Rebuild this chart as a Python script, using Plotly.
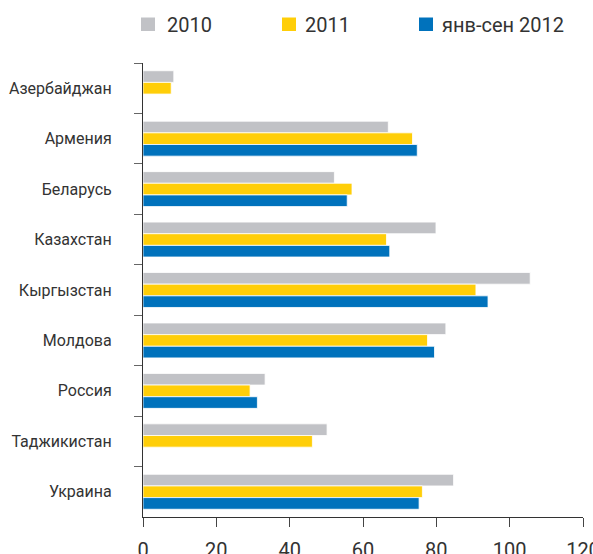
import plotly.graph_objects as go

categories = ["Азербайджан", "Армения", "Беларусь", "Казахстан", "Кыргызстан",
              "Молдова", "Россия", "Таджикистан", "Украина"]
series_names = ["2010", "2011", "янв-сен 2012"]
values_2010 = [8.4, 66.9, 52.2, 79.9, 105.6, 82.6, 33.3, 50.2, 84.7]
values_2011 = [7.7, 73.5, 57.0, 66.4, 90.8, 77.6, 29.2, 46.2, 76.2]
values_2012 = [None, 74.8, 55.7, 67.3, 94.1, 79.5, 31.2, None, 75.3]
x_ticks = [0, 20, 40, 60, 80, 100, 120]

colors = ["#C1C2C6", "#FFCE08", "#0072BC"]

W, H = 593, 554
ML, MR, MT, MB = 143, 10, 63, 37
PW, PH = W - ML - MR, H - MT - MB

def px2paper_x(px):
    return (px - ML) / PW

def px2paper_y(py):
    return (H - MB - py) / PH

fig = go.Figure()
for name, vals, col in zip(series_names, [values_2010, values_2011, values_2012], colors):
    fig.add_trace(go.Bar(
        y=categories, x=vals, name=name, orientation="h",
        marker=dict(color=col, line=dict(color="white", width=0.8)),
        showlegend=False,
    ))

# custom legend (squares + text)
legend_sq_x = [141, 282, 419]
legend_txt_x = [165, 303, 440]
for name, col, sx, tx in zip(series_names, colors, legend_sq_x, legend_txt_x):
    fig.add_shape(type="rect", xref="paper", yref="paper",
                  x0=px2paper_x(sx), x1=px2paper_x(sx + 14),
                  y0=px2paper_y(31), y1=px2paper_y(17.5),
                  fillcolor=col, line=dict(width=0))
    fig.add_annotation(text=name, xref="paper", yref="paper",
                       x=px2paper_x(tx), y=px2paper_y(24.5),
                       xanchor="left", yanchor="middle", showarrow=False,
                       font=dict(size=20, family="Roboto, sans-serif", color="#333333"))

fig.update_layout(
    width=W, height=H,
    margin=dict(l=ML, r=MR, t=MT, b=MB),
    paper_bgcolor="white", plot_bgcolor="white",
    barmode="group", bargap=0.307, bargroupgap=0,
    font=dict(family="Roboto, sans-serif", color="#333333"),
    showlegend=False,
    xaxis=dict(range=[0, 120], tickvals=x_ticks, showgrid=False, zeroline=False,
               showline=True, linecolor="#333333", linewidth=1.2,
               ticks="outside", ticklen=9, tickcolor="#444444", tickwidth=1.2,
               tickfont=dict(size=20, family="Roboto, sans-serif", color="#333333"),
               ticklabelstandoff=6, ticklabeloverflow="allow", automargin=False),
    yaxis=dict(autorange="reversed", showgrid=False, zeroline=False,
               showline=True, linecolor="#333333", linewidth=1.2,
               ticks="outside", ticklen=8, tickcolor="#666666", tickwidth=1.2,
               tickson="boundaries",
               tickfont=dict(size=16, family="Roboto, sans-serif", color="#333333"),
               ticklabelstandoff=27, automargin=False),
)

fig.write_html("out.html",
               config={"displayModeBar": False},
               post_script="document.body.style.margin='0';document.body.style.overflow='hidden';")
